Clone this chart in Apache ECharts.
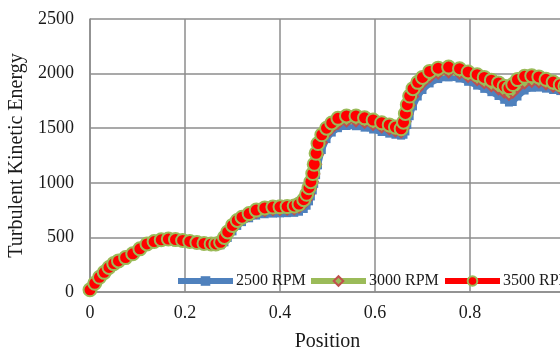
<!DOCTYPE html>
<html>
<head>
<meta charset="utf-8">
<script src="https://cdn.jsdelivr.net/npm/echarts@6/dist/echarts.min.js"></script>
<style>
  html, body { margin: 0; padding: 0; background: #fff; }
  #chart { width: 560px; height: 352px; }
</style>
</head>
<body>
<div id="chart"></div>
<script>
const positions = [
  0, 0.01, 0.02, 0.03, 0.04, 0.05, 0.06, 0.075, 0.09, 0.105,
  0.12, 0.135, 0.15, 0.165, 0.18, 0.195, 0.21, 0.225, 0.24, 0.255,
  0.265, 0.275, 0.283, 0.29, 0.3, 0.31, 0.32, 0.335, 0.35, 0.368,
  0.385, 0.4, 0.415, 0.43, 0.44, 0.45, 0.456, 0.461, 0.465, 0.469,
  0.472, 0.476, 0.48, 0.488, 0.498, 0.509, 0.522, 0.54, 0.56, 0.578,
  0.596, 0.614, 0.63, 0.643, 0.655, 0.66, 0.664, 0.668, 0.673, 0.68,
  0.69, 0.7, 0.715, 0.733, 0.755, 0.778, 0.796, 0.815, 0.83, 0.845,
  0.86, 0.872, 0.882, 0.89, 0.9, 0.915, 0.93, 0.945, 0.96, 0.975,
  0.99, 1
];

const rpm2500 = [
  10, 70, 125, 172, 215, 252, 278, 308, 343, 388,
  430, 455, 470, 476, 472, 463, 452, 440, 430, 424,
  422, 428, 455, 495, 555, 605, 640, 675, 700, 712,
  718, 720, 722, 725, 735, 760, 790, 830, 875, 930,
  990, 1070, 1160, 1300, 1400, 1460, 1500, 1520, 1518, 1505,
  1488, 1465, 1450, 1440, 1432, 1440, 1470, 1530, 1610, 1700,
  1790, 1850, 1910, 1950, 1965, 1955, 1925, 1890, 1860, 1830,
  1795, 1760, 1735, 1740, 1790, 1845, 1870, 1872, 1862, 1850,
  1840, 1835
];

const rpm3000 = [
  15, 75, 130, 176, 220, 256, 282, 312, 347, 392,
  436, 459, 475, 481, 477, 468, 458, 447, 438, 432,
  431, 440, 478, 523, 583, 630, 663, 697, 725, 742,
  750, 752, 754, 758, 772, 805, 845, 895, 945, 1010,
  1080, 1170, 1260, 1370, 1450, 1500, 1540, 1562, 1563, 1550,
  1530, 1508, 1490, 1472, 1462, 1495, 1560, 1630, 1710, 1790,
  1860, 1910, 1965, 2000, 2012, 2000, 1970, 1940, 1912, 1885,
  1857, 1825, 1805, 1825, 1870, 1910, 1925, 1920, 1902, 1880,
  1862, 1855
];

const rpm3500 = [
  20, 80, 135, 180, 225, 260, 285, 315, 350, 395,
  440, 462, 478, 485, 480, 472, 463, 453, 445, 440,
  440, 455, 500, 550, 610, 655, 685, 718, 750, 770,
  778, 780, 782, 788, 805, 845, 895, 955, 1010, 1085,
  1170, 1270, 1360, 1440, 1500, 1548, 1590, 1612, 1612, 1595,
  1575, 1550, 1530, 1510, 1495, 1555, 1635, 1715, 1795, 1862,
  1920, 1965, 2020, 2050, 2060, 2045, 2015, 1990, 1965, 1940,
  1915, 1885, 1870, 1900, 1945, 1975, 1980, 1970, 1948, 1922,
  1898, 1885
];

const seriesNames = ["2500 RPM", "3000 RPM", "3500 RPM"];

const colors = {
  ink: "#1a1a1a",
  grid: "#8c8c8c",
  blue: "#4f81bd",
  green: "#9bbb59",
  brick: "#c0504d",
  red: "#ff0000"
};

const serif = "'Liberation Serif', 'Times New Roman', serif";
const pairs = values => positions.map((x, i) => [x, values[i]]);
const gridLine = { lineStyle: { color: colors.grid, width: 1.5 } };

const legendAt = (name, left) => ({
  data: [name],
  left,
  top: 268,
  itemWidth: 55,
  itemHeight: 12,
  itemGap: 4,
  lineStyle: { width: 6 },
  textStyle: { color: colors.ink, fontFamily: serif, fontSize: 16, padding: [0, 0, 0, -2] }
});

const chart = echarts.init(document.getElementById("chart"), null, { renderer: "canvas" });

chart.setOption({
  animation: false,
  backgroundColor: "#fff",
  grid: { left: 90, right: -5, top: 19, bottom: 60, containLabel: false, outerBoundsMode: "none" },
  legend: [legendAt(seriesNames[0], 170), legendAt(seriesNames[1], 303), legendAt(seriesNames[2], 437)],
  xAxis: {
    type: "value",
    min: 0,
    max: 1,
    interval: 0.2,
    name: "Position",
    nameLocation: "middle",
    nameGap: 40,
    nameTextStyle: { color: colors.ink, fontFamily: serif, fontSize: 20 },
    axisLine: { show: true, ...gridLine },
    axisTick: { show: false },
    axisLabel: { color: colors.ink, fontFamily: serif, fontSize: 18, margin: 12, formatter: v => String(v) },
    splitLine: { show: true, ...gridLine }
  },
  yAxis: {
    type: "value",
    min: 0,
    max: 2500,
    interval: 500,
    name: "Turbulent Kinetic Energy",
    nameLocation: "middle",
    nameGap: 62,
    nameTextStyle: { color: colors.ink, fontFamily: serif, fontSize: 20 },
    axisLine: { show: true, ...gridLine },
    axisTick: { show: false },
    axisLabel: { color: colors.ink, fontFamily: serif, fontSize: 18, margin: 16, formatter: v => String(v) },
    splitLine: { show: true, ...gridLine }
  },
  series: [
    {
      name: seriesNames[0],
      type: "line",
      data: pairs(rpm2500),
      symbol: "rect",
      symbolSize: 8,
      lineStyle: { color: colors.blue, width: 6 },
      itemStyle: { color: colors.blue }
    },
    {
      name: seriesNames[1],
      type: "line",
      data: pairs(rpm3000),
      symbol: "diamond",
      symbolSize: 10,
      lineStyle: { color: colors.green, width: 6 },
      itemStyle: { color: colors.green, borderColor: colors.brick, borderWidth: 2 }
    },
    {
      name: seriesNames[2],
      type: "line",
      data: pairs(rpm3500),
      symbol: "circle",
      symbolSize: 13,
      lineStyle: { color: colors.red, width: 6 },
      itemStyle: { color: colors.red, borderColor: colors.green, borderWidth: 2 }
    }
  ]
});
</script>
</body>
</html>
